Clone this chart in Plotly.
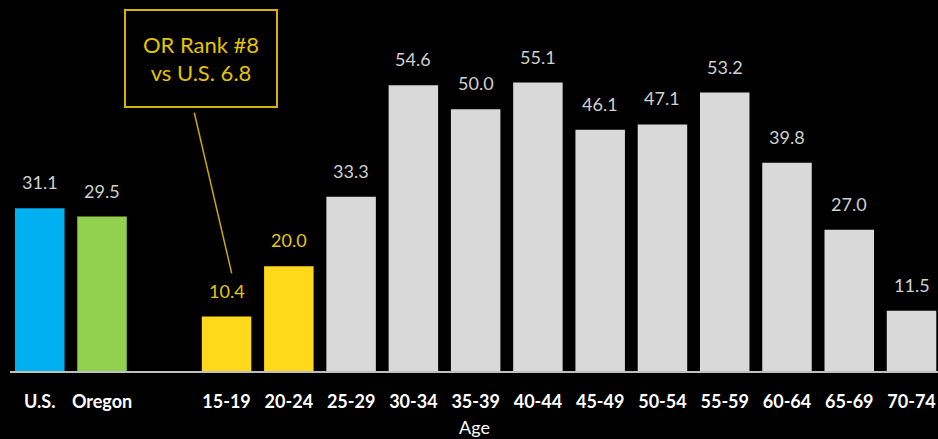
import plotly.graph_objects as go

categories = ["U.S.", "Oregon", "", "15-19", "20-24", "25-29", "30-34", "35-39",
              "40-44", "45-49", "50-54", "55-59", "60-64", "65-69", "70-74"]
values = [31.1, 29.5, None, 10.4, 20.0, 33.3, 54.6, 50.0, 55.1, 46.1, 47.1,
          53.2, 39.8, 27.0, 11.5]
bar_colors = ["#00b0f0", "#92d050", "#000000", "#ffd91a", "#ffd91a"] + ["#d9d9d9"] * 10
label_colors = ["#d0d0d0", "#d0d0d0", "#000000", "#e6c619", "#e6c619"] + ["#d0d0d0"] * 10
x_title = "Age"
callout_text = "OR Rank #8<br>vs U.S. 6.8"

FONT = "Lato, 'Open Sans', sans-serif"
xpos = list(range(len(categories)))

fig = go.Figure()
fig.add_trace(go.Bar(
    x=xpos, y=values, marker=dict(color=bar_colors, line=dict(width=0)),
    hoverinfo="skip", showlegend=False,
))

for i, v in enumerate(values):
    if v is None:
        continue
    fig.add_annotation(
        x=i, y=v, xref="x", yref="y", text=f"{v:.1f}", showarrow=False,
        yanchor="bottom", yshift=13,
        font=dict(family=FONT, size=18, color=label_colors[i]),
    )

# axis title
fig.add_annotation(
    xref="paper", yref="paper", x=0.5, y=-0.152, xanchor="center", yanchor="middle",
    text=x_title, showarrow=False,
    font=dict(family=FONT, size=18, color="#ffffff"),
)

# callout box
fig.add_annotation(
    xref="paper", yref="paper", x=0.2053, y=0.8415, xanchor="center", yanchor="middle",
    text=callout_text, showarrow=False, width=150, height=95,
    bordercolor="#d4b400", borderwidth=2, borderpad=0, align="center",
    font=dict(family=FONT, size=22, color="#e6c300"),
)
fig.add_shape(
    type="line", xref="paper", yref="paper",
    x0=0.1986, y0=0.696, x1=0.2389, y1=0.2633,
    line=dict(color="#c8a800", width=1.5),
)

fig.update_layout(
    width=938, height=439,
    margin=dict(l=10, r=0, t=0, b=68),
    paper_bgcolor="#000000", plot_bgcolor="#000000",
    bargap=0.205,
    xaxis=dict(
        range=[-0.478, 14.425], tickmode="array", tickvals=xpos, ticktext=categories,
        showline=True, linecolor="#bfbfbf", linewidth=2, showgrid=False,
        zeroline=False, ticks="", ticklabelstandoff=13, automargin=False,
        tickfont=dict(family=FONT, size=18, color="#ffffff", weight="bold"),
    ),
    yaxis=dict(range=[0, 70.87], visible=False, showgrid=False, zeroline=False),
)

fig.write_html("out.html")
